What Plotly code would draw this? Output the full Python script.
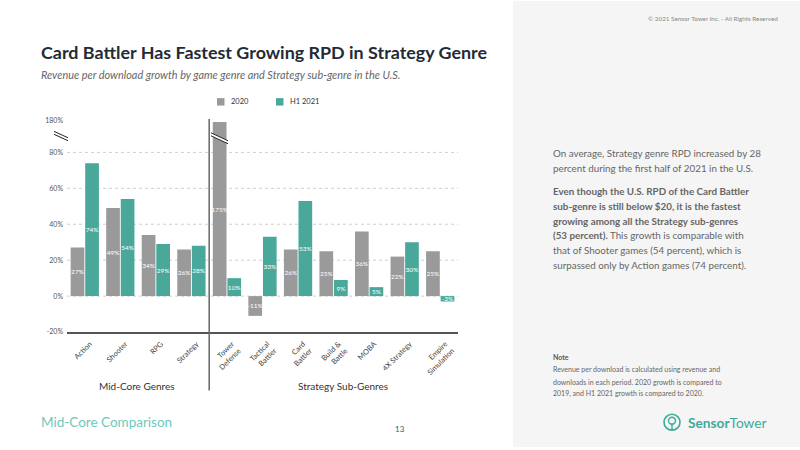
import plotly.graph_objects as go

# ---------------- data ----------------
categories = ["Action", "Shooter", "RPG", "Strategy",
              "Tower<br>Defense", "Tactical<br>Battler", "Card<br>Battler",
              "Build &<br>Battle", "MOBA", "4X Strategy", "Empire<br>Simulation"]
series_2020_name = "2020"
series_2021_name = "H1 2021"
growth_2020 = [27, 49, 34, 26, 175, -11, 26, 25, 36, 22, 25]
growth_h1_2021 = [74, 54, 29, 28, 10, 33, 53, 9, 5, 30, -3]
y_ticks = [-20, 0, 20, 40, 60, 80, 180]
grid_values = [0, 20, 40, 60, 80]
group_labels = ["Mid-Core Genres", "Strategy Sub-Genres"]

# ---------------- styling ----------------
FONT = "Lato"
GRAY = "#9a9a9a"
TEAL = "#4aa89a"
W, H = 800, 450

BREAK_AT = 80
COMPRESS = 0.178


def disp(v):
    """broken axis: values above BREAK_AT are compressed"""
    return v if v <= BREAK_AT else BREAK_AT + (v - BREAK_AT) * COMPRESS


def px(x):
    return x / W


def py(y):
    return 1 - y / H


fig = go.Figure()
for name, vals, col in [(series_2020_name, growth_2020, GRAY),
                        (series_2021_name, growth_h1_2021, TEAL)]:
    fig.add_trace(go.Bar(
        x=categories, y=[disp(v) for v in vals], name=name,
        marker=dict(color=col, line=dict(width=0)),
        text=[f"{v}%" for v in vals], textposition="inside",
        insidetextanchor="middle", textangle=0, constraintext="none",
        textfont=dict(family=FONT, size=6.5, color="white"),
        hoverinfo="skip", showlegend=False,
    ))

shapes = []
annotations = []

# right gray panel
shapes.append(dict(type="rect", xref="paper", yref="paper", x0=px(513), x1=1, y0=0, y1=1,
                   fillcolor="#f5f5f5", line=dict(width=0), layer="below"))

# dotted gridlines
for g in grid_values:
    shapes.append(dict(type="line", xref="paper", yref="y", x0=px(67), x1=px(458), y0=g, y1=g,
                       line=dict(color="#cfcfcf", width=1, dash="dot"), layer="below"))

# divider between groups
shapes.append(dict(type="line", xref="x", yref="paper", x0=3.5, x1=3.5, y0=py(393), y1=py(119),
                   line=dict(color="#666666", width=1.5)))

# break marks on y axis
shapes.append(dict(type="line", xref="paper", yref="paper", x0=px(54), y0=py(133), x1=px(68), y1=py(139.5),
                   line=dict(color="white", width=3)))
for dy in (0, 3):
    shapes.append(dict(type="line", xref="paper", yref="paper", x0=px(54), y0=py(131.5 + dy),
                       x1=px(68), y1=py(138 + dy), line=dict(color="#222", width=1)))
# break marks on the Tower Defense bar
shapes.append(dict(type="line", xref="paper", yref="paper", x0=px(211), y0=py(134.5), x1=px(228), y1=py(142.5),
                   line=dict(color="white", width=3)))
for dy in (0, 3):
    shapes.append(dict(type="line", xref="paper", yref="paper", x0=px(211), y0=py(133 + dy),
                       x1=px(228), y1=py(141 + dy), line=dict(color="#222", width=1)))

# manual legend
for (nm, col, x0) in [(series_2020_name, GRAY, 217), (series_2021_name, TEAL, 276)]:
    shapes.append(dict(type="rect", xref="paper", yref="paper", x0=px(x0), x1=px(x0 + 7.5),
                       y0=py(105.5), y1=py(98), fillcolor=col, line=dict(width=0)))
    annotations.append(dict(text=nm, xref="paper", yref="paper", x=px(x0 + 12), y=py(101.5),
                            xanchor="left", yanchor="middle", showarrow=False,
                            font=dict(family=FONT, size=7.5, color="#333")))

# group labels
for lab, xc in zip(group_labels, [137, 343]):
    annotations.append(dict(text=lab, xref="paper", yref="paper", x=px(xc), y=py(388.5),
                            xanchor="center", yanchor="middle", showarrow=False,
                            font=dict(family=FONT, size=10, color="#333")))

# title & subtitle
annotations.append(dict(text="<b>Card Battler Has Fastest Growing RPD in Strategy Genre</b>",
                        xref="paper", yref="paper", x=px(39), y=py(51), xanchor="left", yanchor="middle",
                        showarrow=False, font=dict(family=FONT, size=17.9, color="#1f2b36")))
annotations.append(dict(text="<i>Revenue per download growth by game genre and Strategy sub-genre in the U.S.</i>",
                        xref="paper", yref="paper", x=px(39), y=py(74), xanchor="left", yanchor="middle",
                        showarrow=False, font=dict(family=FONT, size=10.9, color="#666")))

# copyright
annotations.append(dict(text="© 2021 Sensor Tower Inc. - All Rights Reserved",
                        xref="paper", yref="paper", x=px(780), y=py(17.5), xanchor="right", yanchor="middle",
                        showarrow=False, font=dict(family=FONT, size=6.3, color="#888")))

# right text panel
body_lines = [
    ("On average, Strategy genre RPD increased by 28", 153),
    ("percent during the first half of 2021 in the U.S.", 168),
    ("<b>Even though the U.S. RPD of the Card Battler</b>", 192),
    ("<b>sub-genre is still below $20, it is the fastest</b>", 207),
    ("<b>growing among all the Strategy sub-genres</b>", 222),
    ("<b>(53 percent).</b> This growth is comparable with", 236.5),
    ("that of Shooter games (54 percent), which is", 251),
    ("surpassed only by Action games (74 percent).", 266),
]
for t, y in body_lines:
    annotations.append(dict(text=t, xref="paper", yref="paper", x=px(551), y=py(y),
                            xanchor="left", yanchor="middle", showarrow=False,
                            font=dict(family=FONT, size=9.8, color="#666")))

annotations.append(dict(text="<b>Note</b>", xref="paper", yref="paper", x=px(551), y=py(359),
                        xanchor="left", yanchor="middle", showarrow=False,
                        font=dict(family=FONT, size=7, color="#555")))
note_lines = [
    ("Revenue per download is calculated using revenue and", 371.5),
    ("downloads in each period. 2020 growth is compared to", 384),
    ("2019, and H1 2021 growth is compared to 2020.", 396.5),
]
for t, y in note_lines:
    annotations.append(dict(text=t, xref="paper", yref="paper", x=px(551), y=py(y),
                            xanchor="left", yanchor="middle", showarrow=False,
                            font=dict(family=FONT, size=7, color="#666")))

# logo
LOGO = "#3bab9b"
shapes.append(dict(type="circle", xref="paper", yref="paper", x0=px(664), x1=px(680),
                   y0=py(433), y1=py(417), line=dict(color=LOGO, width=1.6)))
shapes.append(dict(type="circle", xref="paper", yref="paper", x0=px(668.5), x1=px(675.5),
                   y0=py(427), y1=py(420), line=dict(color=LOGO, width=1.4)))
shapes.append(dict(type="line", xref="paper", yref="paper", x0=px(672), x1=px(672),
                   y0=py(426), y1=py(432.5), line=dict(color=LOGO, width=1.4)))
annotations.append(dict(text="<b>Sensor</b>Tower", xref="paper", yref="paper", x=px(686), y=py(425),
                        xanchor="left", yanchor="middle", showarrow=False,
                        font=dict(family=FONT, size=13.7, color=LOGO)))

# footer
annotations.append(dict(text="Mid-Core Comparison", xref="paper", yref="paper", x=px(39), y=py(425),
                        xanchor="left", yanchor="middle", showarrow=False,
                        font=dict(family=FONT, size=13.5, color="#6ccabb")))
annotations.append(dict(text="13", xref="paper", yref="paper", x=px(400), y=py(432),
                        xanchor="center", yanchor="middle", showarrow=False,
                        font=dict(family=FONT, size=8, color="#555")))

fig.update_layout(
    width=W, height=H, autosize=False,
    margin=dict(l=0, r=0, t=0, b=0),
    paper_bgcolor="white", plot_bgcolor="rgba(0,0,0,0)",
    barmode="group", bargap=0.18, bargroupgap=0.06,
    font=dict(family=FONT),
    showlegend=False,
    xaxis=dict(domain=[px(67), px(458)], showgrid=False, showline=True, linecolor="#555",
               linewidth=1.5, tickangle=-45, ticks="", zeroline=False,
               ticklabelshift=5, ticklabelstandoff=3,
               tickfont=dict(family=FONT, size=7.4, color="#444")),
    yaxis=dict(domain=[py(334), py(116.5)], range=[-20, 100], showgrid=False, zeroline=False,
               tickvals=[disp(v) for v in y_ticks], ticktext=[f"{v}%" for v in y_ticks],
               ticks="", ticklabelstandoff=3,
               tickfont=dict(family=FONT, size=7, color="#555")),
    shapes=shapes, annotations=annotations,
)

fig.write_html("out.html")
